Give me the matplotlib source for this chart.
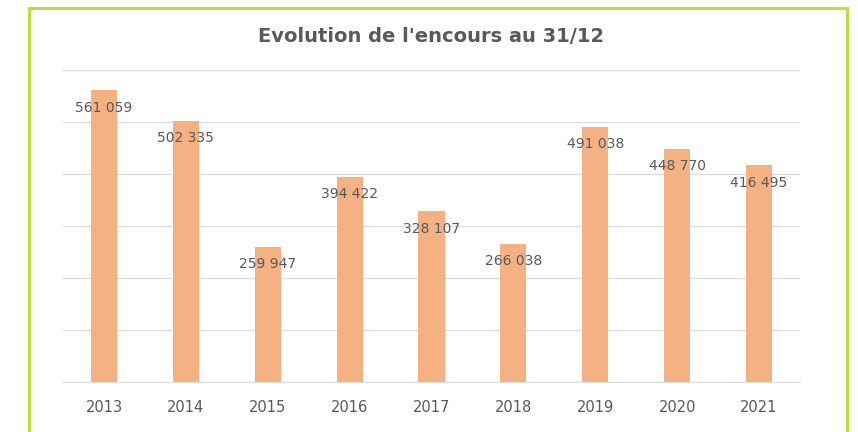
import matplotlib
matplotlib.use('Agg')
import matplotlib.pyplot as plt
from matplotlib.patches import Rectangle

years = ['2013', '2014', '2015', '2016', '2017', '2018', '2019', '2020', '2021']
encours = [561059, 502335, 259947, 394422, 328107, 266038, 491038, 448770, 416495]
labels = ['561 059', '502 335', '259 947', '394 422', '328 107',
          '266 038', '491 038', '448 770', '416 495']

W, H = 858, 432
fig = plt.figure(figsize=(W / 100, H / 100), dpi=100)
fig.patch.set_facecolor('white')

# green frame around the chart (bottom edge is cut off)
frame = Rectangle((29 / W, -0.05), (847 - 29) / W, 1.05 - 8 / H,
                  transform=fig.transFigure, fill=False,
                  edgecolor='#C3D93C', linewidth=2.2, clip_on=False)
fig.patches.append(frame)

ax = fig.add_axes([63 / W, 50 / H, 737 / W, 312 / H])
x = list(range(len(years)))
ax.bar(x, encours, width=0.32, color='#F4B183', zorder=2)

for xi, v, lab in zip(x, encours, labels):
    ax.annotate(lab, (xi, v), xytext=(0, -12.5), textcoords='offset points',
                ha='center', va='center', fontsize=10, color='#595959', zorder=3)

ax.set_xlim(-0.5, len(years) - 0.5)
ax.set_ylim(0, 600000)
ax.set_yticks(range(0, 600001, 100000))
ax.yaxis.grid(True, color='#DEDEDE', linewidth=1, zorder=0)
ax.set_yticklabels([])
ax.tick_params(axis='y', length=0)
ax.set_xticks(x)
ax.set_xticklabels(years, fontsize=10.5, color='#595959')
ax.tick_params(axis='x', length=0, pad=13)
for s in ['top', 'right', 'left']:
    ax.spines[s].set_visible(False)
ax.spines['bottom'].set_color('#DEDEDE')

fig.text(431 / W, 1 - 37 / H, "Evolution de l'encours au 31/12", ha='center', va='center',
         fontsize=14, fontweight='bold', color='#595959')

fig.savefig('out.png', dpi=100)
